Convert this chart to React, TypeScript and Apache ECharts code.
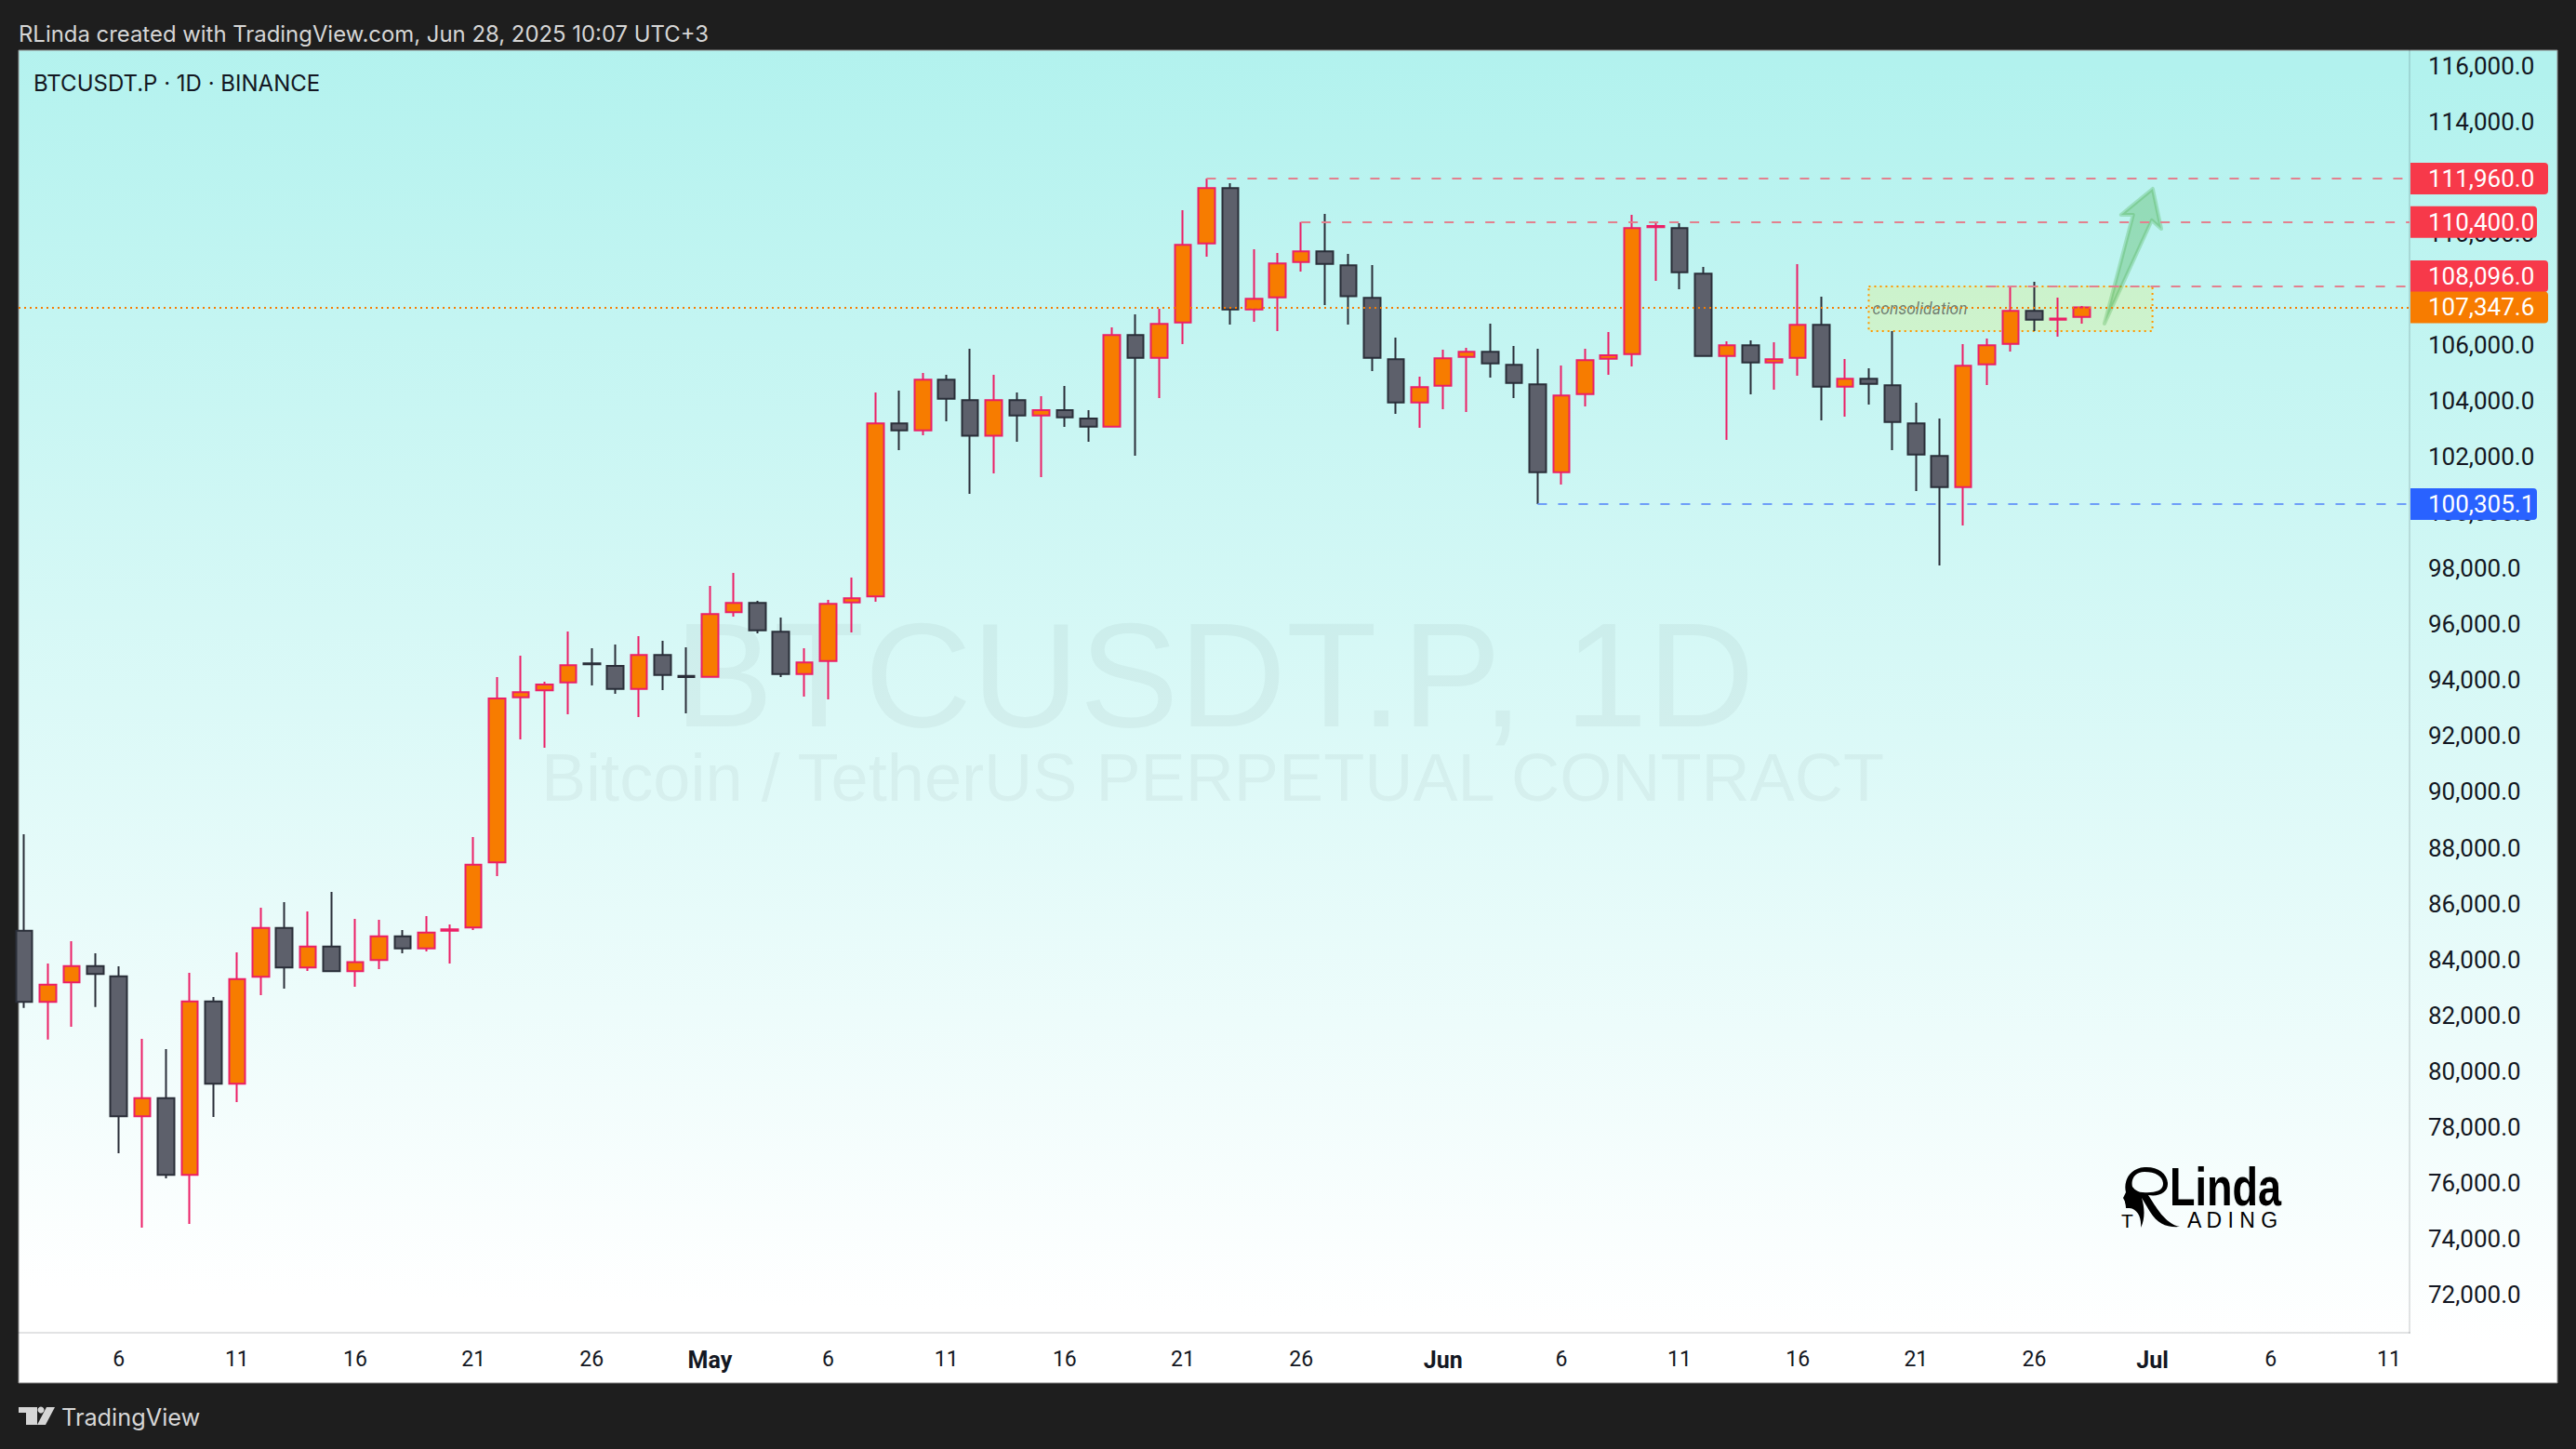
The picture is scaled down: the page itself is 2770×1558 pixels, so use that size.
import React, { useEffect, useRef } from "react";
import * as echarts from "echarts";

const dates = ["2025-04-02","2025-04-03","2025-04-04","2025-04-05","2025-04-06","2025-04-07","2025-04-08","2025-04-09","2025-04-10","2025-04-11","2025-04-12","2025-04-13","2025-04-14","2025-04-15","2025-04-16","2025-04-17","2025-04-18","2025-04-19","2025-04-20","2025-04-21","2025-04-22","2025-04-23","2025-04-24","2025-04-25","2025-04-26","2025-04-27","2025-04-28","2025-04-29","2025-04-30","2025-05-01","2025-05-02","2025-05-03","2025-05-04","2025-05-05","2025-05-06","2025-05-07","2025-05-08","2025-05-09","2025-05-10","2025-05-11","2025-05-12","2025-05-13","2025-05-14","2025-05-15","2025-05-16","2025-05-17","2025-05-18","2025-05-19","2025-05-20","2025-05-21","2025-05-22","2025-05-23","2025-05-24","2025-05-25","2025-05-26","2025-05-27","2025-05-28","2025-05-29","2025-05-30","2025-05-31","2025-06-01","2025-06-02","2025-06-03","2025-06-04","2025-06-05","2025-06-06","2025-06-07","2025-06-08","2025-06-09","2025-06-10","2025-06-11","2025-06-12","2025-06-13","2025-06-14","2025-06-15","2025-06-16","2025-06-17","2025-06-18","2025-06-19","2025-06-20","2025-06-21","2025-06-22","2025-06-23","2025-06-24","2025-06-25","2025-06-26","2025-06-27","2025-06-28"];
const opens = [85032,82479,83178,83766,83400,78383,79038,76285,82501,79548,83378,85132,83711,84466,83578,83977,84832,84399,85030,85143,87474,93390,93634,93923,94600,94511,93690,94900,94150,94123,96431,96765,95732,94223,94689,96787,96998,103191,102947,104757,104024,102748,104024,103480,103669,103369,103080,106355,105545,106810,109641,111616,107276,107709,108974,109352,108852,107687,105489,103946,104546,105578,105755,105289,104590,101449,104246,105511,105678,110220,110184,108553,105611,105989,105378,105545,106721,104512,104790,104557,103191,102026,100916,105311,106044,107221,106910,107010];
const closes = [82479,83100,83766,83478,78383,79038,76285,82501,79548,83300,85132,83711,84466,83578,83900,84832,84399,84965,85075,87396,93346,93568,93845,94534,94570,93690,94900,94189,94110,96365,96765,95788,94223,94633,96731,96931,103191,102947,104757,104079,102748,104024,103480,103669,103413,103080,106355,105545,106755,109585,111616,107276,107654,108919,109352,108908,107743,105545,103946,104490,105522,105755,105345,104646,101449,104191,105456,105633,110184,110260,108608,105611,105989,105378,105489,106721,104512,104790,104612,103247,102081,100916,105256,105989,107221,106910,106950,107347.6];
const lows = [82268,81136,81591,82301,77062,74398,76163,74531,78361,78893,82723,82956,83589,83544,83023,83655,84222,84288,83855,85054,86985,91880,91581,92780,93812,93512,92680,93645,92813,94100,96276,95677,94112,93412,93312,95710,96809,102237,102770,103269,100672,101404,102536,101271,103069,102536,103050,102037,104102,106033,109163,106732,106832,106499,108630,107432,106732,105067,103536,103036,103702,103602,104834,104102,100305,101004,103802,104934,105234,108297,108000,105611,102603,104235,104401,104901,103302,103436,103869,102237,100772,98108,99539,104568,105767,106499,106300,106766];
const highs = [88484,83855,84654,84222,83755,81158,80792,83522,82656,84255,85853,86053,85720,86419,85454,85420,85054,85553,85254,88384,94112,94877,93945,95743,95144,95277,95577,95410,95177,97375,97841,96842,96243,95144,96875,97675,104301,104368,104999,104934,105866,104934,104301,104168,104535,103669,106632,107099,107298,110828,111960,111794,109430,109296,110400,110695,109263,108863,106266,104868,105833,105900,106766,105966,105866,105267,105866,106466,110662,110362,110362,108797,106133,106166,106100,108897,107731,105500,105167,106500,103935,103369,106033,106233,108096,108264,107698,107398];

const priceTicks = [72000,74000,76000,78000,80000,82000,84000,86000,88000,90000,92000,94000,96000,98000,100000,102000,104000,106000,108000,110000,112000,114000,116000];
const timeTickDates = ["2025-04-06","2025-04-11","2025-04-16","2025-04-21","2025-04-26","2025-05-01","2025-05-06","2025-05-11","2025-05-16","2025-05-21","2025-05-26","2025-06-01","2025-06-06","2025-06-11","2025-06-16","2025-06-21","2025-06-26","2025-07-01","2025-07-06","2025-07-11"];
const timeTickLabels = ["6","11","16","21","26","May","6","11","16","21","26","Jun","6","11","16","21","26","Jul","6","11"];

const levelPrices = [111960, 110400, 100305.1, 108096, 107347.6];
const levelTexts = ["111,960.0", "110,400.0", "100,305.1", "108,096.0", "107,347.6"];
const levelStarts = ["2025-05-22", "2025-05-26", "2025-06-05", "2025-06-24", "2025-04-01"];
const levelLineColors = ["#E3808E", "#E3808E", "#6E9EF8", "#E3808E", "#F77C00"];
const levelTagColors = ["#F7394A", "#F7394A", "#2962FF", "#F7394A", "#F77C00"];
const levelLineTypes = ["dash", "dash", "dash", "dash", "dot"];
const levelTagWide = [148, 136, 136, 148, 148];
const levelTagShift = [0, 0, 0, -11, 0];

const zoneDates = ["2025-06-19", "2025-07-01"];
const zonePrices = [108096, 106499];

// arrow annotation: [days after 2 Apr, price]
const arrowPoints = [[87.97,106765],[89.18,110661],[88.67,110661],[90.01,111594],[90.37,110162],[89.97,110462]];

const DAY = 86400000;
const START = Date.parse(dates[0]);
const X_MIN = START - 0.236 * DAY;
const X_MAX = START + 100.87 * DAY;
const Y_MIN = 70634;
const Y_MAX = 116555;
const UI_FONT = "Inter";
const AXIS_FONT = "Roboto";

const LOGO_R =
  "M2306 1255 C2320 1254 2331 1262 2331 1273 C2331 1282 2322 1287 2310 1285 C2318 1297 2328 1316 2344 1319 C2330 1320 2320 1316 2312 1303 L2303 1288 C2306 1298 2307 1310 2302 1320 C2303 1308 2298 1300 2290 1299 L2286 1299 C2286 1295 2285 1294 2285 1292 L2283 1288 L2286 1282 C2283 1270 2290 1256 2306 1255 Z " +
  "M2306 1260 C2296 1260 2291 1268 2293 1276 C2296 1280 2300 1282 2304 1282 C2315 1283 2326 1281 2326 1273 C2326 1265 2318 1260 2306 1260 Z";
echarts.graphic.registerShape("rlindaR", echarts.graphic.extendPath(LOGO_R, {}));

export default function App() {
  const ref = useRef<HTMLDivElement>(null);
  useEffect(() => {
    document.body.style.margin = "0";
    document.body.style.background = "#1E1E1E";
    const chart = echarts.init(ref.current!, null, { renderer: "svg" });
    const rows = dates.map((d, i) => [Date.parse(d), opens[i], closes[i], lows[i], highs[i]]);
    chart.setOption({
      animation: false,
      backgroundColor: "#1E1E1E",
      grid: { left: 20, right: 2770 - 2591, top: 54, bottom: 1558 - 1433, containLabel: false },
      xAxis: {
        type: "value",
        min: X_MIN,
        max: X_MAX,
        splitLine: { show: false },
        axisTick: { show: false },
        axisLine: { show: true, lineStyle: { color: "rgba(19,23,34,0.12)", width: 2 } },
        axisLabel: {
          customValues: timeTickDates.map((d) => Date.parse(d)),
          margin: 17,
          fontFamily: AXIS_FONT,
          fontSize: 23,
          color: "#131722",
          hideOverlap: false,
          formatter: (v: number) => {
            const i = timeTickDates.findIndex((d) => Date.parse(d) === v);
            const t = timeTickLabels[i] ?? "";
            return /^\d+$/.test(t) ? t : `{b|${t}}`;
          },
          rich: { b: { fontFamily: AXIS_FONT, fontSize: 25, fontWeight: "bold", color: "#131722" } },
        },
      },
      yAxis: {
        type: "value",
        position: "right",
        min: Y_MIN,
        max: Y_MAX,
        scale: true,
        splitLine: { show: false },
        axisTick: { show: false },
        axisLine: { show: true, lineStyle: { color: "rgba(19,23,34,0.12)", width: 2 } },
        axisLabel: {
          customValues: priceTicks,
          margin: 20,
          fontFamily: AXIS_FONT,
          fontSize: 26,
          color: "#131722",
          formatter: (v: number) => v.toLocaleString("en-US", { minimumFractionDigits: 1, maximumFractionDigits: 1 }),
        },
      },
      graphic: [
        {
          type: "rect", z: -10, silent: true,
          shape: { x: 20, y: 54, width: 2730, height: 1433 },
          style: {
            stroke: "#8E8E8E", lineWidth: 1,
            fill: new echarts.graphic.LinearGradient(0.52, 0, 0.48, 1, [
              { offset: 0, color: "#B2F2EE" },
              { offset: 0.95, color: "#FFFFFF" },
              { offset: 1, color: "#FFFFFF" },
            ]),
          },
        },
        { type: "text", z: -5, silent: true, x: 1306, y: 725, style: { text: "BTCUSDT.P, 1D", font: "160px 'Liberation Sans'", fill: "rgba(19,23,34,0.045)", textAlign: "center", textVerticalAlign: "middle" } },
        { type: "text", z: -5, silent: true, x: 1304, y: 836, style: { text: "Bitcoin / TetherUS PERPETUAL CONTRACT", font: "72.2px 'Liberation Sans'", fill: "rgba(19,23,34,0.045)", textAlign: "center", textVerticalAlign: "middle" } },
        { type: "text", z: 10, silent: true, x: 20, y: 36, style: { text: "RLinda created with TradingView.com, Jun 28, 2025 10:07 UTC+3", font: `23.9px ${UI_FONT}`, fill: "#D6D6D6", textVerticalAlign: "middle" } },
        { type: "text", z: 10, silent: true, x: 36, y: 89, style: { text: "BTCUSDT.P · 1D · BINANCE", font: `24px ${UI_FONT}`, fill: "#131722", textVerticalAlign: "middle" } },
        { type: "rect", z: 10, silent: true, shape: { x: 20, y: 1513, width: 20, height: 6 }, style: { fill: "#D6D6D6" } },
        { type: "rect", z: 10, silent: true, shape: { x: 28, y: 1513, width: 12, height: 19 }, style: { fill: "#D6D6D6" } },
        { type: "circle", z: 10, silent: true, shape: { cx: 44, cy: 1516, r: 3.5 }, style: { fill: "#D6D6D6" } },
        { type: "polygon", z: 10, silent: true, shape: { points: [[50, 1513], [59, 1513], [49, 1532], [40, 1532]] }, style: { fill: "#D6D6D6" } },
        { type: "text", z: 10, silent: true, x: 66, y: 1523, style: { text: "TradingView", font: `25.3px ${UI_FONT}`, fill: "#D6D6D6", textVerticalAlign: "middle" } },
        { type: "rlindaR", z: 10, silent: true, x: 0, y: 0, style: { fill: "#000" } },
        { type: "text", z: 10, silent: true, x: 2333, y: 1276, scaleX: 0.776, scaleY: 1, style: { text: "Linda", font: "bold 58px 'Liberation Sans'", fill: "#000", textVerticalAlign: "middle" } },
        { type: "text", z: 10, silent: true, x: 2281, y: 1312, style: { text: "T", font: "21px 'Liberation Sans'", fill: "#000", textVerticalAlign: "middle" } },
        { type: "text", z: 10, silent: true, x: 2352, y: 1312, style: { text: "A D I N G", font: "23px 'Liberation Sans'", fill: "#000", textVerticalAlign: "middle" } },
      ],
      series: [
        {
          name: "levels",
          type: "line",
          z: 1,
          data: [],
          markLine: {
            silent: true,
            symbol: "none",
            animation: false,
            data: levelPrices.map((p, i) => [
              {
                coord: [Date.parse(levelStarts[i]) < X_MIN ? X_MIN : Date.parse(levelStarts[i]), p],
                lineStyle: {
                  color: levelLineColors[i],
                  width: 2,
                  type: levelLineTypes[i] === "dash" ? [10, 12] : [2, 4],
                  opacity: 1,
                },
                label: {
                  show: true,
                  position: "end",
                  distance: 1,
                  formatter: levelTexts[i],
                  color: "#FFFFFF",
                  fontFamily: AXIS_FONT,
                  fontSize: 26,
                  lineHeight: 22,
                  align: "left",
                  verticalAlign: "middle",
                  backgroundColor: levelTagColors[i],
                  borderRadius: [0, 4, 4, 0],
                  padding: [6, 0, 6, 19],
                  width: levelTagWide[i] - 19,
                  offset: [0, levelTagShift[i]],
                },
              },
              { coord: [X_MAX, p] },
            ]),
          },
        },
        {
          name: "BTCUSDT.P",
          type: "candlestick",
          z: 2,
          barWidth: 18,
          encode: { x: 0, y: [1, 2, 3, 4] },
          data: rows,
          itemStyle: {
            color: "#F77C00",
            color0: "#5D606B",
            borderColor: "#EC1F66",
            borderColor0: "#2A2E39",
            borderWidth: 2,
          },
        },
        {
          name: "zone",
          type: "line",
          z: 3,
          data: [],
          markArea: {
            silent: true,
            itemStyle: {
              color: "rgba(255,235,59,0.2)",
              borderColor: "#FF9800",
              borderWidth: 2,
              borderType: [2, 4],
            },
            label: {
              show: true,
              position: "insideLeft",
              distance: 5,
              formatter: "consolidation",
              fontFamily: "Roboto",
              fontStyle: "italic",
              fontSize: 17.5,
              color: "rgba(60,60,60,0.65)",
            },
            data: [[
              { coord: [Date.parse(zoneDates[0]), zonePrices[0]] },
              { coord: [Date.parse(zoneDates[1]), zonePrices[1]] },
            ]],
          },
        },
        {
          name: "arrow",
          type: "custom",
          z: 4,
          silent: true,
          clip: false,
          data: [[0]],
          renderItem: (_p: any, api: any) => ({
            type: "polygon",
            shape: { points: arrowPoints.map(([d, p]) => api.coord([START + d * DAY, p])) },
            style: {
              fill: "rgba(76,175,80,0.35)",
              stroke: "rgba(76,175,80,0.3)",
              lineWidth: 4,
              lineJoin: "round",
            },
          }),
        },
      ],
    });
    return () => chart.dispose();
  }, []);
  return <div ref={ref} style={{ position: "absolute", left: 0, top: 0, width: 2770, height: 1558 }} />;
}
